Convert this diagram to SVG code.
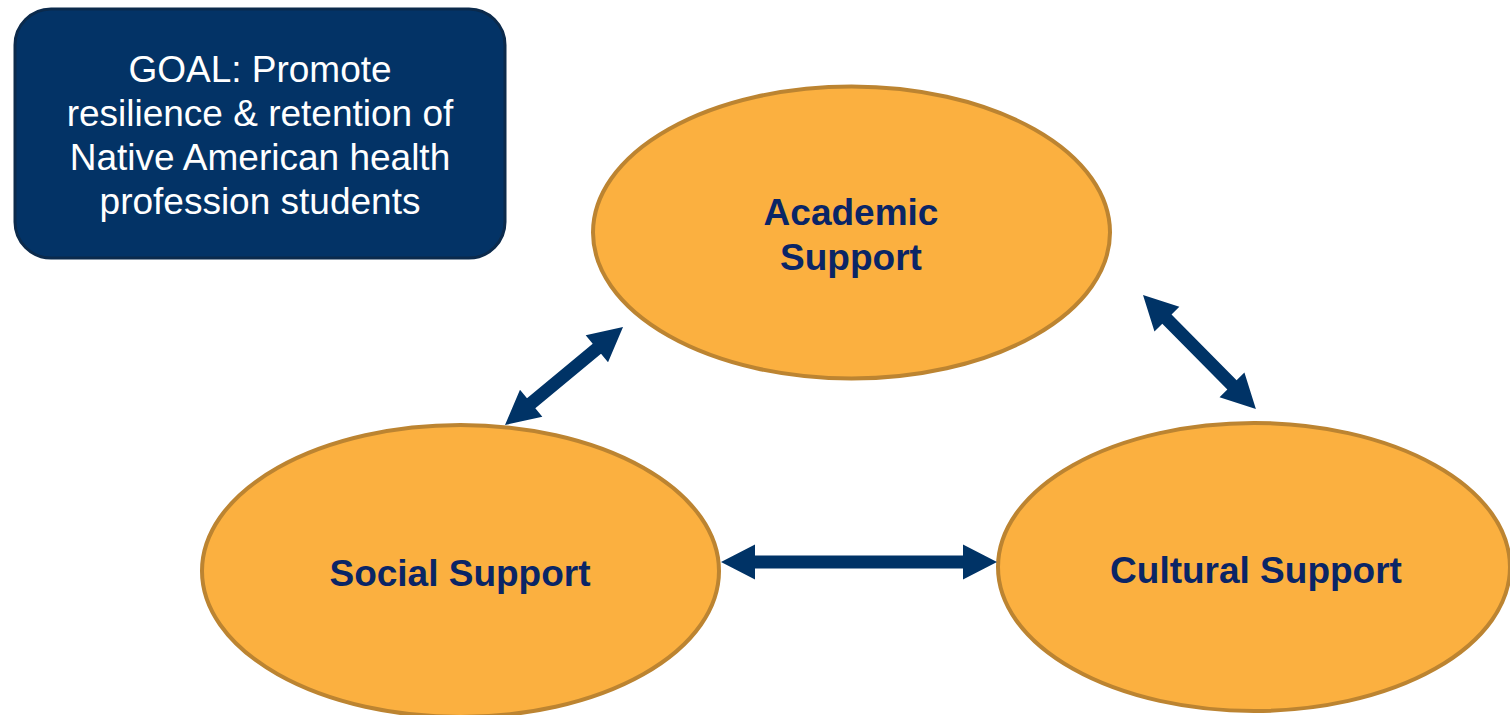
<svg xmlns="http://www.w3.org/2000/svg" width="1510" height="715" viewBox="0 0 1510 715">
  <defs>
    <style>
      .goal-box { fill: #033366; stroke: #0b2a4c; stroke-width: 3; }
      .goal-text { font-family: "Liberation Sans", Arial, sans-serif; font-size: 37px; fill: #ffffff; text-anchor: middle; }
      .oval { fill: #FBB040; stroke: #BC8431; stroke-width: 4; }
      .oval-text { font-family: "Liberation Sans", Arial, sans-serif; font-size: 37px; font-weight: bold; fill: #0A2566; text-anchor: middle; }
      .arrow { fill: #003366; }
    </style>
  </defs>
  <rect width="1510" height="715" fill="#ffffff"/>

  <g id="goal">
    <rect class="goal-box" x="15" y="9" width="490" height="249" rx="36" ry="36"/>
    <text class="goal-text" x="260" y="82">GOAL: Promote</text>
    <text class="goal-text" x="260" y="126">resilience &amp; retention of</text>
    <text class="goal-text" x="260" y="170">Native American health</text>
    <text class="goal-text" x="260" y="214">profession students</text>
  </g>

  <g id="academic">
    <ellipse class="oval" cx="851.5" cy="232.5" rx="258.5" ry="146"/>
    <text class="oval-text" x="851" y="225">Academic</text>
    <text class="oval-text" x="851" y="270">Support</text>
  </g>

  <g id="social">
    <ellipse class="oval" cx="460.5" cy="571" rx="258.5" ry="146"/>
    <text class="oval-text" x="460" y="586">Social Support</text>
  </g>

  <g id="cultural">
    <ellipse class="oval" cx="1254" cy="567" rx="256" ry="144"/>
    <text class="oval-text" x="1256" y="583">Cultural Support</text>
  </g>

  <g id="connectors">
    <path class="arrow" transform="translate(505 425) rotate(-39.7)" d="M0 0 L34 -17.5 L34 -6.5 L119.4 -6.5 L119.4 -17.5 L153.4 0 L119.4 17.5 L119.4 6.5 L34 6.5 L34 17.5 Z"/>
    <path class="arrow" transform="translate(1143 295) rotate(45.3)" d="M0 0 L34 -17.5 L34 -6.5 L126.5 -6.5 L126.5 -17.5 L160.5 0 L126.5 17.5 L126.5 6.5 L34 6.5 L34 17.5 Z"/>
    <path class="arrow" transform="translate(721 562)" d="M0 0 L34 -17.5 L34 -6.5 L242 -6.5 L242 -17.5 L276 0 L242 17.5 L242 6.5 L34 6.5 L34 17.5 Z"/>
  </g>
</svg>
